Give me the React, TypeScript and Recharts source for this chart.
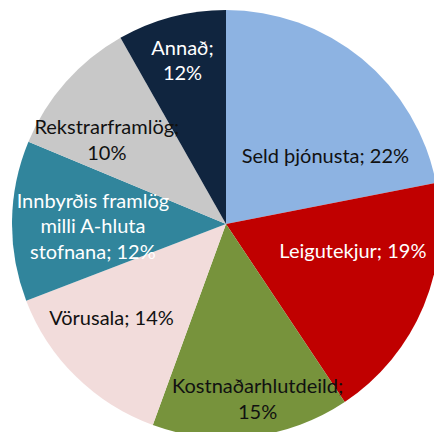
import React from "react";
import { PieChart, Pie, Cell } from "recharts";

const categories = [
  "Seld þjónusta",
  "Leigutekjur",
  "Kostnaðarhlutdeild",
  "Vörusala",
  "Innbyrðis framlög milli A-hluta stofnana",
  "Rekstrarframlög",
  "Annað",
];
const values = [21.9, 18.7, 14.9, 13.6, 12.1, 10.5, 8.2];
const percentLabels = ["22%", "19%", "15%", "14%", "12%", "10%", "12%"];
const labelLines = [
  ["Seld þjónusta; 22%"],
  ["Leigutekjur; 19%"],
  ["Kostnaðarhlutdeild;", "15%"],
  ["Vörusala; 14%"],
  ["Innbyrðis framlög", "milli A-hluta", "stofnana; 12%"],
  ["Rekstrarframlög;", "10%"],
  ["Annað;", "12%"],
];

const colors = ["#8DB3E2", "#C00000", "#77933C", "#F2DCDB", "#31859C", "#C8C8C8", "#10253F"];
const textColors = ["#111", "#fff", "#111", "#111", "#fff", "#111", "#fff"];
const labelOffsets = [
  [11, 38.5],
  [-1.5, -27],
  [15, 36],
  [-17, -6.5],
  [6, 3],
  [-15, 7],
  [-8, -30],
];

const data = categories.map((name, i) => ({ name, value: values[i], pct: percentLabels[i] }));

const RAD = Math.PI / 180;
const LINE_H = 25.5;

const renderLabel = (props: any) => {
  const { cx, cy, midAngle, outerRadius, index } = props;
  const r = outerRadius * 0.65;
  const x = cx + r * Math.cos(-midAngle * RAD) + labelOffsets[index][0];
  const y = cy + r * Math.sin(-midAngle * RAD) + labelOffsets[index][1];
  const lines = labelLines[index];
  const n = lines.length;
  return (
    <text
      x={x}
      y={y}
      textAnchor="middle"
      fill={textColors[index]}
      fontFamily="Lato, sans-serif"
      fontSize={20}
    >
      {lines.map((line, i) => (
        <tspan key={i} x={x} y={y + (i - (n - 1) / 2) * LINE_H} dominantBaseline="central">
          {line}
        </tspan>
      ))}
    </text>
  );
};

export default function App() {
  return (
    <div style={{ position: "absolute", left: 0, top: 0, width: 434, height: 432, overflow: "hidden", background: "#fff" }}>
      <PieChart width={434} height={432} margin={{ top: 0, right: 0, bottom: 0, left: 0 }}>
        <Pie
          data={data}
          dataKey="value"
          nameKey="name"
          cx={226}
          cy={224}
          outerRadius={214}
          startAngle={90}
          endAngle={-270}
          stroke="none"
          label={renderLabel}
          labelLine={false}
          isAnimationActive={false}
        >
          {data.map((d, i) => (
            <Cell key={d.name} fill={colors[i]} />
          ))}
        </Pie>
      </PieChart>
    </div>
  );
}
